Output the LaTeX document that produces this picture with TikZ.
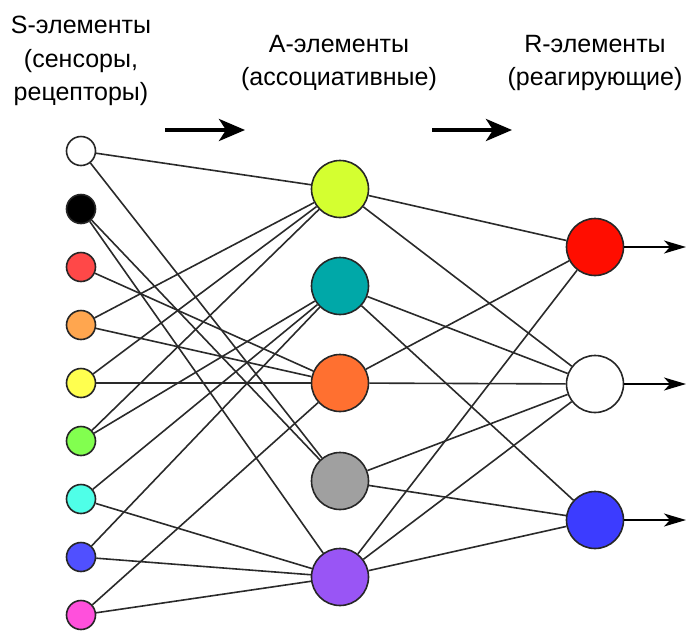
\documentclass[tikz,border=0pt]{standalone}
\usepackage{fontspec}
\setmainfont{Liberation Sans}
\usetikzlibrary{arrows.meta}
\definecolor{sRed}{HTML}{FF4848}
\definecolor{sOrange}{HTML}{FFA64F}
\definecolor{sYellow}{HTML}{FFFF4F}
\definecolor{sGreen}{HTML}{82FF4F}
\definecolor{sCyan}{HTML}{4FFFE8}
\definecolor{sBlue}{HTML}{5050FF}
\definecolor{sPink}{HTML}{FF50DC}
\definecolor{aLime}{HTML}{D4FF30}
\definecolor{aTeal}{HTML}{00A8A8}
\definecolor{aOrange}{HTML}{FF7030}
\definecolor{aGray}{HTML}{A0A0A0}
\definecolor{aPurple}{HTML}{9955F5}
\definecolor{rRed}{HTML}{FF0D00}
\definecolor{rBlue}{HTML}{3C3CFF}
\definecolor{wire}{HTML}{2A2A2A}
\tikzset{
  sens/.style={circle, draw=black!85, line width=1.6pt, minimum size=29pt, inner sep=0pt},
  big/.style={circle, draw=black!85, line width=1.6pt, minimum size=57pt, inner sep=0pt},
  conn/.style={draw=wire, line width=1.6pt},
  outarrow/.style={draw=black, line width=1.5pt, -{Stealth[length=22pt, width=13pt, inset=6pt]}},
  flowarrow/.style={draw=black, line width=3.8pt, -{Stealth[length=26pt, width=22pt, inset=7pt]}},
  title/.style={anchor=base, inner sep=0pt, font=\fontsize{25}{34}\selectfont}
}
\begin{document}
\begin{tikzpicture}[x=1pt, y=-1pt]
\useasboundingbox (0,0) rectangle (688,630);
% titles
\node[title] (t1) at (81,33) {S-элементы};
\node[title] (t2) at (81,67) {(сенсоры,};
\node[title] (t3) at (81,100) {рецепторы)};
\node[title] (t4) at (339,52) {A-элементы};
\node[title] (t5) at (339,85) {(ассоциативные)};
\node[title] (t6) at (595,52) {R-элементы};
\node[title] (t7) at (595,85) {(реагирующие)};
% flow arrows
\coordinate (f1a) at (165,130); \coordinate (f1b) at (245,130);
\coordinate (f2a) at (432,130); \coordinate (f2b) at (512,130);
\draw[flowarrow] (f1a) -- (f1b);
\draw[flowarrow] (f2a) -- (f2b);
% S nodes
\node[sens, fill=white]   (s1) at (81,151) {};
\node[sens, fill=black]   (s2) at (81,209) {};
\node[sens, fill=sRed]    (s3) at (81,267) {};
\node[sens, fill=sOrange] (s4) at (81,325) {};
\node[sens, fill=sYellow] (s5) at (81,383) {};
\node[sens, fill=sGreen]  (s6) at (81,441) {};
\node[sens, fill=sCyan]   (s7) at (81,499) {};
\node[sens, fill=sBlue]   (s8) at (81,557) {};
\node[sens, fill=sPink]   (s9) at (81,615) {};
% A nodes
\node[big, fill=aLime]   (a1) at (340,189) {};
\node[big, fill=aTeal]   (a2) at (340,286) {};
\node[big, fill=aOrange] (a3) at (340,383) {};
\node[big, fill=aGray]   (a4) at (340,481) {};
\node[big, fill=aPurple] (a5) at (340,577) {};
% R nodes
\node[big, fill=rRed]  (r1) at (595,247) {};
\node[big, fill=white] (r2) at (595,384) {};
\node[big, fill=rBlue] (r3) at (595,520) {};
% S -> A
\draw[conn] (s1) -- (a1);
\draw[conn] (s1) -- (a4);
\draw[conn] (s2) -- (a4);
\draw[conn] (s2) -- (a5);
\draw[conn] (s3) -- (a3);
\draw[conn] (s4) -- (a1);
\draw[conn] (s4) -- (a3);
\draw[conn] (s5) -- (a1);
\draw[conn] (s5) -- (a3);
\draw[conn] (s6) -- (a1);
\draw[conn] (s6) -- (a2);
\draw[conn] (s7) -- (a2);
\draw[conn] (s7) -- (a5);
\draw[conn] (s8) -- (a2);
\draw[conn] (s8) -- (a5);
\draw[conn] (s9) -- (a3);
\draw[conn] (s9) -- (a5);
% A -> R
\draw[conn] (a1) -- (r1);
\draw[conn] (a1) -- (r2);
\draw[conn] (a2) -- (r2);
\draw[conn] (a2) -- (r3);
\draw[conn] (a3) -- (r1);
\draw[conn] (a3) -- (r2);
\draw[conn] (a4) -- (r2);
\draw[conn] (a4) -- (r3);
\draw[conn] (a5) -- (r1);
\draw[conn] (a5) -- (r2);
\draw[conn] (a5) -- (r3);
% outputs
\coordinate (o1) at (686,247);
\coordinate (o2) at (686,384);
\coordinate (o3) at (686,520);
\draw[outarrow] (r1) -- (o1);
\draw[outarrow] (r2) -- (o2);
\draw[outarrow] (r3) -- (o3);
\end{tikzpicture}
\end{document}
